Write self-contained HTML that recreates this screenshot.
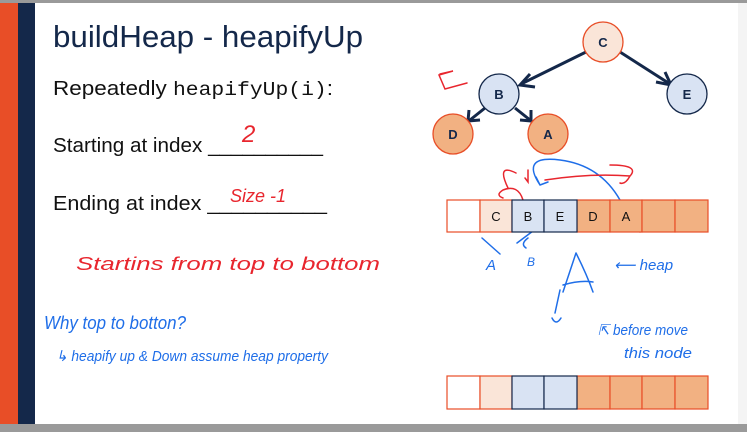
<!DOCTYPE html>
<html><head><meta charset="utf-8"><style>
html,body{margin:0;padding:0;background:#fff;}
svg{display:block;}
.hw{font-family:"Liberation Sans",sans-serif;font-style:italic;}
</style></head><body>
<svg width="747" height="432" viewBox="0 0 747 432" xmlns="http://www.w3.org/2000/svg">
<rect x="0" y="0" width="747" height="432" fill="#fff"/>
<rect x="0" y="0" width="747" height="3" fill="#9a9a9a"/>
<rect x="0" y="424" width="747" height="8" fill="#9a9a9a"/>
<rect x="738" y="3" width="9" height="421" fill="#f4f4f4"/>
<rect x="0" y="3" width="18" height="421" fill="#e84e27"/>
<rect x="18" y="3" width="17" height="421" fill="#14284a"/>

<text x="53" y="47" font-family="Liberation Sans,sans-serif" font-size="31" fill="#14284a" textLength="310" lengthAdjust="spacingAndGlyphs">buildHeap - heapifyUp</text>
<text x="53" y="95" font-family="Liberation Sans,sans-serif" font-size="20" fill="#111" textLength="280" lengthAdjust="spacingAndGlyphs">Repeatedly <tspan font-family="Liberation Mono,monospace" font-size="19">heapifyUp(i)</tspan>:</text>
<text x="53" y="152" font-family="Liberation Sans,sans-serif" font-size="20" fill="#111" textLength="270" lengthAdjust="spacingAndGlyphs">Starting at index __________</text>
<text x="53" y="210" font-family="Liberation Sans,sans-serif" font-size="20" fill="#111" textLength="274" lengthAdjust="spacingAndGlyphs">Ending at index __________</text>

<!-- handwriting -->
<text x="242" y="142" class="hw" font-size="24" fill="#e8262e">2</text>
<text x="230" y="202" class="hw" font-size="18" fill="#e8262e">Size -1</text>
<text x="76" y="270" class="hw" font-size="18" fill="#e8262e" textLength="304" lengthAdjust="spacingAndGlyphs">Startins  from  top  to  bottom</text>
<text x="44" y="329" class="hw" font-size="18" fill="#1f6ee8" textLength="142" lengthAdjust="spacingAndGlyphs">Why  top  to  botton?</text>
<text x="56" y="361" class="hw" font-size="15" fill="#1f6ee8" textLength="272" lengthAdjust="spacingAndGlyphs">↳ heapify up &amp; Down  assume  heap  property</text>
<text x="598" y="335" class="hw" font-size="15" fill="#1f6ee8" textLength="90" lengthAdjust="spacingAndGlyphs">⇱ before   move</text>
<text x="624" y="358" class="hw" font-size="15" fill="#1f6ee8" textLength="68" lengthAdjust="spacingAndGlyphs">this   node</text>
<text x="614" y="270" class="hw" font-size="15" fill="#1f6ee8">⟵ heap</text>
<text x="486" y="270" class="hw" font-size="15" fill="#1f6ee8">A</text>
<text x="527" y="266" class="hw" font-size="12" fill="#1f6ee8">B</text>
<g fill="none" stroke-width="1.5" stroke-linecap="round">
<path d="M576 253 L563 292 M576 253 Q587 275 593 292 M563 285 Q580 280 593 282 M560 290 L555 313" stroke="#1f6ee8"/>
<path d="M552 318 q4 8 9 0" stroke="#1f6ee8"/>
<path d="M440 74 l13 -3 l-14 4 l6 14 l22 -6" stroke="#e8262e"/>
<path d="M540 185 Q520 155 560 160 Q600 165 620 200 M540 185 l-4 -8 M540 185 l8 -3" stroke="#1f6ee8"/>
<path d="M545 180 Q590 173 630 176 Q640 165 610 165 M630 176 Q625 185 620 183" stroke="#e8262e"/>
<path d="M516 173 q-20 -10 -8 15 M523 200 q-5 -16 -20 -10 q-8 5 0 8" stroke="#e8262e"/>
<path d="M528 170 l0 12 l-3 -4" stroke="#e8262e"/>
<path d="M482 238 l18 16 M517 243 l16 -12 M528 238 q-8 6 -2 10" stroke="#1f6ee8"/>
<path d="M618 212 l14 8 M520 207 l20 10 M490 205 l15 8 M640 220 q-8 5 0 12" stroke="#e8262e"/>
</g>

<!-- tree edges -->
<g stroke="#14284a" stroke-width="3" fill="none">
<line x1="586" y1="52" x2="521" y2="84"/>
<polyline points="530,74 520,85 535,87"/>
<line x1="620" y1="52" x2="670" y2="84"/>
<polyline points="656,82 671,85 665,72"/>
<line x1="485" y1="108" x2="470" y2="120"/>
<polyline points="469,110 468,121 480,120"/>
<line x1="515" y1="108" x2="530" y2="120"/>
<polyline points="520,120 531,121 531,110"/>
</g>
<g font-family="Liberation Sans,sans-serif" font-weight="bold" font-size="13" text-anchor="middle" fill="#14284a">
<circle cx="603" cy="42" r="20" fill="#fae5d8" stroke="#e84e27" stroke-width="1.3"/><text x="603" y="47">C</text>
<circle cx="499" cy="94" r="20" fill="#d9e3f3" stroke="#14284a" stroke-width="1.3"/><text x="499" y="99">B</text>
<circle cx="687" cy="94" r="20" fill="#d9e3f3" stroke="#14284a" stroke-width="1.3"/><text x="687" y="99">E</text>
<circle cx="453" cy="134" r="20" fill="#f2b182" stroke="#e84e27" stroke-width="1.3"/><text x="453" y="139">D</text>
<circle cx="548" cy="134" r="20" fill="#f2b182" stroke="#e84e27" stroke-width="1.3"/><text x="548" y="139">A</text>
</g>

<!-- arrays -->
<g font-family="Liberation Sans,sans-serif" font-size="13" text-anchor="middle" fill="#111" stroke-width="1.2">
<rect x="447" y="200" width="33" height="32" fill="#fff" stroke="#e84e27"/>
<rect x="480" y="200" width="32" height="32" fill="#fae5d8" stroke="#e84e27"/>
<rect x="577" y="200" width="33" height="32" fill="#f2b182" stroke="#e84e27"/>
<rect x="610" y="200" width="32" height="32" fill="#f2b182" stroke="#e84e27"/>
<rect x="642" y="200" width="33" height="32" fill="#f2b182" stroke="#e84e27"/>
<rect x="675" y="200" width="33" height="32" fill="#f2b182" stroke="#e84e27"/>
<rect x="512" y="200" width="32" height="32" fill="#d9e3f3" stroke="#14284a"/>
<rect x="544" y="200" width="33" height="32" fill="#d9e3f3" stroke="#14284a"/>
<text x="496" y="221">C</text><text x="528" y="221">B</text><text x="560" y="221">E</text><text x="593" y="221">D</text><text x="626" y="221">A</text>

<rect x="447" y="376" width="33" height="33" fill="#fff" stroke="#e84e27"/>
<rect x="480" y="376" width="32" height="33" fill="#fae5d8" stroke="#e84e27"/>
<rect x="577" y="376" width="33" height="33" fill="#f2b182" stroke="#e84e27"/>
<rect x="610" y="376" width="32" height="33" fill="#f2b182" stroke="#e84e27"/>
<rect x="642" y="376" width="33" height="33" fill="#f2b182" stroke="#e84e27"/>
<rect x="675" y="376" width="33" height="33" fill="#f2b182" stroke="#e84e27"/>
<rect x="512" y="376" width="32" height="33" fill="#d9e3f3" stroke="#14284a"/>
<rect x="544" y="376" width="33" height="33" fill="#d9e3f3" stroke="#14284a"/>
</g>
</svg>
</body></html>
